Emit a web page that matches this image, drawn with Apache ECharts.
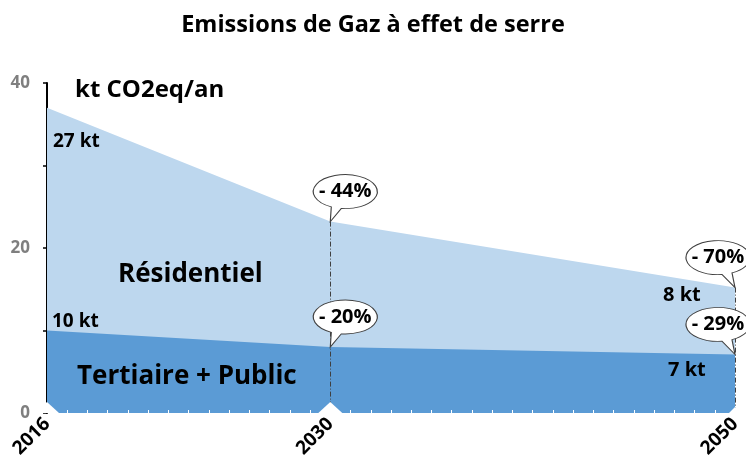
<!DOCTYPE html>
<html>
<head>
<meta charset="utf-8">
<script src="https://cdn.jsdelivr.net/npm/echarts@6/dist/echarts.min.js"></script>
<style>
  html, body { margin: 0; padding: 0; background: #fff; }
  #chart { width: 746px; height: 457px; }
</style>
</head>
<body>
<div id="chart"></div>
<script>
// data
var years = [2016, 2030, 2050];
var tertiaire = [10, 8, 7.1];
var residentiel = [27, 15.2, 8.1];
var xTickLabels = [2016, 2030, 2050];
var yTickLabels = [0, 20, 40];
var resChange = ['- 44%', '- 70%'];
var terChange = ['- 20%', '- 29%'];

var FONT = 'Open Sans, Noto Sans, sans-serif';
// speech bubbles, tail on the left (2030) or on the right (2050)
var bubbleL = 'path://M18 32.29A32 17 0 1 1 28 33.87L17 47Z';
var bubbleR = 'path://M36 33.87A32 17 0 1 1 46 32.29L49 47Z';

var totals = years.map(function (y, i) { return tertiaire[i] + residentiel[i]; });

function pairs(vals) {
    return years.map(function (y, i) { return [y, vals[i]]; });
}

function bubbles(vals, labels) {
    return labels.map(function (txt, k) {
        var last = k === labels.length - 1;
        return {
            coord: [years[k + 1], vals[k + 1]],
            value: txt,
            symbol: last ? bubbleR : bubbleL,
            symbolOffset: last ? [-17, -23.5] : [15, -23.5]
        };
    });
}

// little white notches cut by the year labels at the bottom of the area
function notches() {
    return xTickLabels.map(function (y, i) {
        var last = i === xTickLabels.length - 1;
        return {
            coord: [y, 0],
            symbol: 'triangle',
            symbolSize: last ? [12, 6] : [24, 11],
            symbolOffset: [0, last ? -3 : -5.5]
        };
    });
}

function dropLines(vals) {
    return [1, 2].map(function (i) {
        return [{ coord: [years[i], vals[i]] }, { coord: [years[i], 0] }];
    });
}

function note(txt, x, y, size) {
    return {
        type: 'text', x: x, y: y, z: 20,
        style: { text: txt, font: 'bold ' + size + 'px ' + FONT, fill: '#000', textVerticalAlign: 'middle' }
    };
}

var dom = document.getElementById('chart');
var myChart = echarts.init(dom, null, { renderer: 'canvas' });

var option = {
    backgroundColor: '#fff',
    animation: false,
    title: {
        text: 'Emissions de Gaz à effet de serre',
        left: 'center',
        top: 8,
        textStyle: { fontFamily: FONT, fontWeight: 'bold', fontSize: 23.5, color: '#000' }
    },
    grid: { left: 47, right: 11, top: 83, bottom: 44, containLabel: false, outerBoundsMode: 'none' },
    xAxis: {
        type: 'value',
        min: 2016,
        max: 2050,
        interval: 1,
        z: 6,
        axisLine: { show: false },
        splitLine: { show: false },
        axisTick: { show: true, inside: true, length: 3, lineStyle: { color: '#fff', width: 1 } },
        axisLabel: {
            rotate: 45,
            margin: 8,
            color: '#000',
            fontFamily: FONT,
            fontWeight: 'bold',
            fontSize: 19,
            formatter: function (v) { return xTickLabels.indexOf(v) >= 0 ? String(v) : ''; }
        }
    },
    yAxis: {
        type: 'value',
        min: 0,
        max: 40,
        interval: 10,
        splitLine: { show: false },
        axisLine: { show: true, lineStyle: { color: '#000', width: 2 } },
        axisTick: { show: true, length: 4, lineStyle: { color: '#000', width: 1.5 } },
        axisLabel: {
            margin: 17,
            color: '#7f7f7f',
            fontFamily: FONT,
            fontWeight: 'bold',
            fontSize: 17,
            formatter: function (v) { return yTickLabels.indexOf(v) >= 0 ? String(v) : ''; }
        }
    },
    series: [
        {
            name: 'Résidentiel',
            type: 'line',
            data: pairs(totals),
            symbol: 'none',
            lineStyle: { width: 0 },
            areaStyle: { color: '#bdd7ee', opacity: 1 },
            z: 1
        },
        {
            name: 'Tertiaire + Public',
            type: 'line',
            data: pairs(tertiaire),
            symbol: 'none',
            lineStyle: { width: 0 },
            areaStyle: { color: '#5b9bd5', opacity: 1 },
            z: 2
        },
        {
            name: 'marks',
            type: 'line',
            data: [],
            z: 5,
            markLine: {
                symbol: 'none',
                silent: true,
                label: { show: false },
                lineStyle: { color: '#404040', width: 1, type: [5, 2, 1, 2] },
                data: dropLines(totals)
            },
            markPoint: {
                symbolSize: [64, 47],
                symbolKeepAspect: false,
                itemStyle: { color: '#fff', borderColor: '#404040', borderWidth: 1 },
                label: {
                    show: true,
                    position: 'inside',
                    offset: [0, -6.5],
                    formatter: '{c}',
                    color: '#000',
                    fontFamily: FONT,
                    fontWeight: 'bold',
                    fontSize: 20
                },
                data: bubbles(totals, resChange).concat(bubbles(tertiaire, terChange))
            }
        },
        {
            name: 'notches',
            type: 'line',
            data: [],
            z: 5.5,
            markPoint: {
                silent: true,
                label: { show: false },
                itemStyle: { color: '#fff', borderWidth: 0 },
                data: notches()
            }
        }
    ],
    graphic: [
        note('kt CO2eq/an', 75, 90, 24),
        note('27 kt', 53, 142, 19),
        note('10 kt', 52, 322, 19),
        note('Résidentiel', 118, 275, 26),
        note('Tertiaire + Public', 77, 377, 26),
        note('8 kt', 663, 295, 20),
        note('7 kt', 668, 370, 20)
    ]
};

myChart.setOption(option);
window.addEventListener('resize', myChart.resize);
</script>
</body>
</html>
